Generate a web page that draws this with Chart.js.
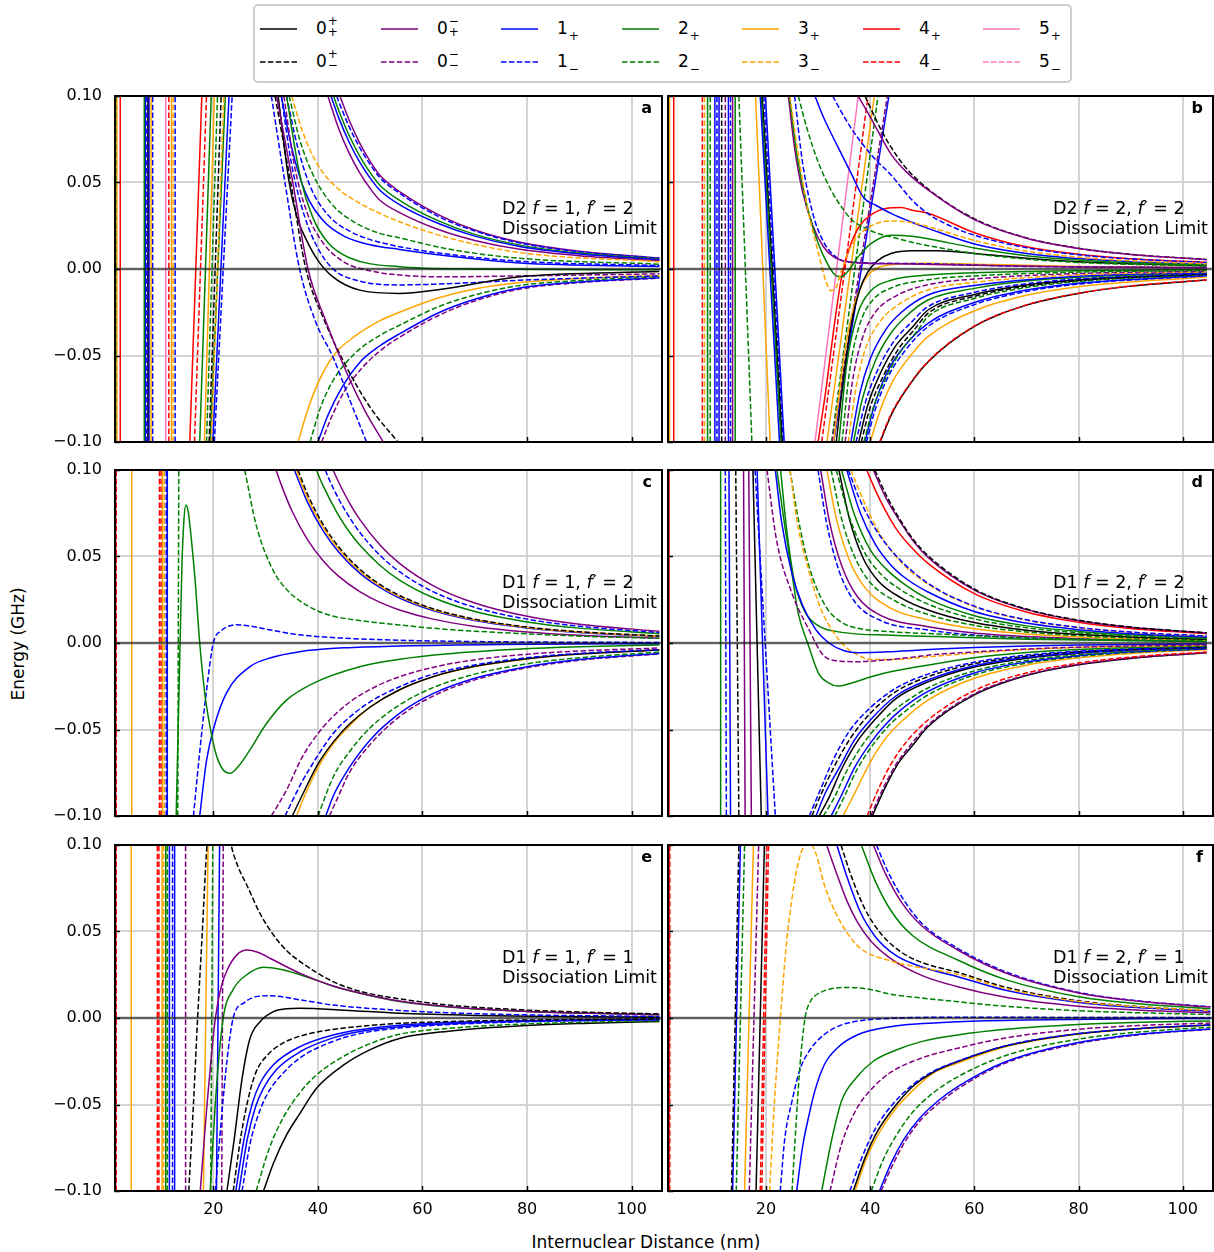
<!DOCTYPE html>
<html>
<head>
<meta charset="utf-8">
<script src="https://cdn.jsdelivr.net/npm/chart.js@4.4.1/dist/chart.umd.min.js"></script>
<style>
  body { margin: 0; background: #fff; }
  #fig { position: relative; width: 1214px; height: 1252px; overflow: hidden; font-family: 'DejaVu Sans', sans-serif; color: #000; }
  .st { display: inline-block; vertical-align: middle; font-size: 12px; line-height: 11px; margin-left: 1px; position: relative; top: -2px; }
  .st span { display: block; }
  .sb { font-size: 12px; position: relative; top: 6px; margin-left: 1px; }
  .note { position: absolute; font-size: 17.5px; line-height: 20px; white-space: nowrap; text-align: left; }
  .tag { position: absolute; font-size: 16px; font-weight: bold; }
  svg { display: block; }
</style>
</head>
<body>
<div id="fig"></div>
<script>
// ---- axes ----
const X_RANGE = [1.2, 105.8];
const Y_RANGE = [-0.1, 0.1];
const xTicks = [20, 40, 60, 80, 100];
const yTicks = [-0.1, -0.05, 0, 0.05, 0.1];

// ---- legend states (Omega, sigma, parity) ----
const legendStates = ['0++', '0-+', '1+', '2+', '3+', '4+', '5+', '0+-', '0--', '1-', '2-', '3-', '4-', '5-'];

// ---- panel text ----
const panelTags = ['a', 'b', 'c', 'd', 'e', 'f'];
const panelLine = ['D2', 'D2', 'D1', 'D1', 'D1', 'D1'];
const panelF = [1, 2, 1, 2, 1, 2];
const panelFp = [2, 2, 2, 2, 1, 1];

// ---- panel a: D2 f=1, f'=2 ----
// near-vertical short-range lines: [state, x at E=-0.1, x at E=+0.1]
const linesA = [
  ['2-', 1.35, 1.35], ['3+', 1.55, 1.55], ['4+', 2.2, 2.2],
  ['2+', 6.8, 6.8], ['1+', 7.0, 7.0], ['1-', 7.3, 7.3], ['0++', 7.5, 7.5], ['1+', 7.7, 7.7], ['3+', 8.1, 8.1], ['1-', 8.4, 8.4],
  ['5+', 10.9, 10.9], ['4-', 11.5, 11.5], ['3+', 12.0, 12.0], ['3-', 12.3, 12.3], ['1-', 12.7, 12.7],
  ['4+', 15.5, 17.8], ['4-', 16.4, 18.7], ['2+', 17.4, 19.6], ['3+', 18.3, 20.2], ['2-', 18.7, 20.8],
  ['0+-', 19.2, 21.5], ['3-', 19.6, 22.0], ['2+', 19.4, 22.3], ['1+', 19.9, 23.0], ['1-', 20.2, 23.6]
];
const curvesA = [
  ['1-', [31.1,0.1, 33.7,0.05, 36.5,0, 39.5,-0.03, 42.9,-0.051, 46,-0.075, 49.3,-0.1]],
  ['0-+', [32.1,0.1, 35.2,0.05, 38.1,0, 41.5,-0.03, 45.5,-0.06, 49,-0.082, 52.5,-0.1]],
  ['0+-', [31.8,0.1, 34.8,0.05, 37.7,0, 41,-0.028, 45,-0.054, 50,-0.08, 55.3,-0.1]],
  ['0++', [32.4,0.1, 34.5,0.05, 36,0.03, 37.8,0.0168, 40,0.005, 42.8,-0.0044, 48,-0.0122, 55.6,-0.0141, 63,-0.012, 78.6,-0.0045, 105.3,-0.0015]],
  ['1-', [33,0.1, 35,0.06, 37.5,0.03, 40,0.012, 42.9,0, 48,-0.007, 55.6,-0.0092, 65,-0.0085, 78.6,-0.0065, 105.3,-0.004]],
  ['0--', [33.5,0.1, 35.5,0.06, 38,0.032, 41,0.015, 45,0.004, 48.5,0, 55.6,-0.0035, 65,-0.0045, 78.6,-0.004, 105.3,-0.0028]],
  ['2+', [34,0.1, 36.5,0.055, 39,0.03, 42,0.015, 46,0.0065, 55.6,0.0013, 70,0, 105.3,-0.0005]],
  ['1+', [33,0.1, 35,0.07, 37.5,0.045, 41,0.028, 45,0.019, 50,0.014, 55.6,0.0113, 65,0.0075, 78.6,0.0035, 105.3,0.0015]],
  ['1-', [34,0.1, 36,0.072, 38.5,0.048, 42,0.031, 46,0.022, 50,0.017, 55.6,0.0129, 65,0.0085, 78.6,0.0045, 105.3,0.002]],
  ['2-', [34.5,0.1, 36.5,0.075, 39,0.055, 42.5,0.038, 47,0.027, 51.8,0.0206, 55.6,0.018, 65,0.0115, 78.6,0.0062, 105.3,0.0028]],
  ['3-', [35,0.1, 37,0.08, 40,0.06, 44,0.046, 48,0.038, 51.8,0.0322, 55.6,0.0273, 65,0.018, 78.6,0.0095, 105.3,0.0042]],
  ['0-+', [41.9,0.1, 44,0.0809, 46,0.0668, 48,0.0555, 50,0.0465, 51.8,0.0399, 56,0.032, 63.3,0.0225, 70,0.0165, 78.6,0.0114, 90,0.0077, 105.3,0.0048]],
  ['1+', [42.5,0.1, 44,0.0872, 46,0.0731, 48,0.0618, 50,0.0525, 51.8,0.0457, 56,0.0365, 63.3,0.026, 70,0.019, 78.6,0.013, 90,0.0087, 105.3,0.0054]],
  ['2+', [43,0.1, 44,0.0915, 46,0.077, 48,0.0653, 50,0.0557, 51.8,0.0486, 56,0.039, 63.3,0.0275, 70,0.020, 78.6,0.0138, 90,0.0092, 105.3,0.0057]],
  ['1-', [43.6,0.1, 44,0.0967, 46,0.0821, 48,0.0702, 50,0.0604, 51.8,0.053, 56,0.043, 63.3,0.030, 70,0.022, 78.6,0.015, 90,0.01, 105.3,0.0062]],
  ['0-+', [44.2,0.1, 46,0.0858, 48,0.0728, 50,0.0622, 51.8,0.0543, 56,0.044, 63.3,0.031, 70,0.0225, 78.6,0.0155, 90,0.0103, 105.3,0.0064]],
  ['3+', [36.2,-0.1, 38,-0.082, 40,-0.066, 43,-0.05, 47,-0.039, 51.8,-0.03, 55.6,-0.025, 63.3,-0.0165, 70,-0.0115, 78.6,-0.0078, 90,-0.0055, 105.3,-0.0037]],
  ['2-', [38.5,-0.1, 40.5,-0.08, 43,-0.064, 47,-0.049, 51.8,-0.0385, 55.6,-0.0325, 63.3,-0.0215, 70,-0.015, 78.6,-0.0095, 90,-0.0066, 105.3,-0.0044]],
  ['1+', [40,-0.1, 42,-0.084, 44.5,-0.069, 48,-0.054, 51.8,-0.0445, 55.6,-0.0375, 63.3,-0.025, 70,-0.0175, 78.6,-0.011, 90,-0.0075, 105.3,-0.005]],
  ['0--', [40.7,-0.1, 42.7,-0.085, 45,-0.071, 48.5,-0.057, 51.8,-0.0475, 55.6,-0.0395, 63.3,-0.0265, 70,-0.0185, 78.6,-0.0116, 90,-0.0079, 105.3,-0.0053]]
];

// ---- panel b: D2 f=2, f'=2 ----
const linesB = [
  ['3+', 1.5, 1.5], ['4+', 2.3, 2.3],
  ['4-', 7.8, 7.8], ['3-', 8.2, 8.2], ['2+', 8.8, 8.8], ['2-', 9.3, 9.3], ['1+', 10.2, 10.2], ['1-', 10.6, 10.6], ['1+', 11.0, 11.0],
  ['0+-', 11.5, 11.5], ['0--', 12.2, 12.2], ['1+', 12.8, 12.8], ['1-', 13.2, 13.2], ['0-+', 13.6, 13.6], ['2+', 14.1, 14.1],
  ['2-', 17.3, 14.8], ['3+', 20.8, 18.0], ['1+', 22.6, 18.9], ['2+', 22.9, 19.1], ['0++', 23.1, 19.3], ['1-', 23.3, 19.6], ['1+', 23.5, 19.9],
  ['5+', 29.4, 37.7], ['4-', 30.7, 39.6], ['3+', 31.7, 40.8], ['0--', 32.7, 43.3], ['1+', 33.0, 43.6], ['2-', 32.6, 41.5]
];
const curvesB = [
  ['3-', [24.6,0.1, 26,0.07, 28,0.035, 30,0.01, 31.5,-0.007, 32.5,-0.0125, 33.4,-0.011, 34.5,-0.001, 36,0.011, 38,0.02, 41,0.026, 44,0.0278, 47.5,0.027, 51.1,0.0245, 60,0.0165, 70,0.0103, 80,0.0068, 90,0.0048, 104.6,0.003]],
  ['2+', [24.5,0.1, 26,0.065, 28,0.035, 30,0.015, 32,0.002, 33.5,-0.004, 34.5,-0.0045, 35.8,-0.001, 37.7,0.007, 40.2,0.0148, 44.1,0.0195, 48,0.019, 51.1,0.0175, 60,0.0122, 70,0.0077, 80,0.0052, 90,0.0036, 104.6,0.0023]],
  ['0-+', [24.3,0.1, 25.5,0.07, 27,0.045, 29,0.025, 31,0.013, 33,0.007, 35.2,0.0045, 38,0.0035, 45,0.003, 60,0.0022, 80,0.0012, 104.6,0.0007]],
  ['1-', [25.5,0.1, 27,0.062, 29,0.032, 31,0.016, 33,0.008, 35,0.0045, 40,0.0035, 51.1,0.003, 70,0.0015, 104.6,0.0008]],
  ['1+', [29.4,0.1, 31,0.088, 33.9,0.07, 36.4,0.055, 38.8,0.041, 41,0.037, 44.1,0.032, 48,0.027, 51.1,0.0235, 60,0.0145, 70,0.009, 80,0.006, 90,0.0042, 104.6,0.0027]],
  ['2-', [26.2,0.1, 28,0.08, 30,0.062, 32.6,0.045, 35.2,0.033, 36.6,0.028, 38.5,0.0245, 41,0.021, 44.1,0.0185, 48,0.0155, 51.1,0.0135, 60,0.009, 70,0.0057, 80,0.0038, 90,0.0027, 104.6,0.0017]],
  ['1-', [32.8,0.1, 36,0.083, 40.2,0.066, 44.1,0.054, 48,0.04, 51.1,0.032, 56,0.024, 60,0.0195, 70,0.0123, 80,0.0082, 90,0.0058, 104.6,0.0037]],
  ['0-+', [37.7,0.1, 40,0.088, 44.1,0.066, 47,0.056, 51.1,0.0457, 60,0.0285, 70,0.0178, 80,0.0119, 90,0.0084, 104.6,0.0054]],
  ['0+-', [39.0,0.1, 42,0.081, 44.1,0.07, 47,0.058, 51.1,0.0463, 60,0.029, 70,0.018, 80,0.012, 90,0.0085, 104.6,0.0055]],
  ['4+', [30.0,-0.1, 31.5,-0.07, 33,-0.035, 34.5,-0.005, 36,0.012, 38,0.025, 40,0.031, 43,0.035, 46,0.0355, 48,0.034, 51.1,0.0322, 60,0.021, 70,0.0128, 80,0.0085, 90,0.0059, 104.6,0.0038]],
  ['0++', [33.5,-0.1, 35,-0.06, 36.5,-0.03, 38,-0.012, 39.5,-0.002, 41.5,0.005, 44,0.009, 48,0.0105, 53,0.0105, 60,0.009, 70,0.0062, 80,0.0042, 90,0.003, 104.6,0.0019]],
  ['3+', [33,-0.1, 35,-0.05, 37,-0.02, 39,-0.006, 41,0, 44,0.0025, 51.1,0.0033, 60,0.0028, 80,0.0015, 104.6,0.0008]],
  ['2+', [34,-0.1, 35.5,-0.055, 37.7,-0.025, 40,-0.013, 44,-0.0065, 51.1,-0.0035, 60,-0.0022, 80,-0.001, 104.6,-0.0005]],
  ['2-', [34.6,-0.1, 36,-0.06, 38,-0.032, 40.5,-0.018, 44,-0.011, 51.1,-0.0062, 60,-0.004, 80,-0.0018, 104.6,-0.0009]],
  ['0--', [35.2,-0.1, 36.6,-0.065, 38.5,-0.04, 41,-0.025, 45,-0.0155, 51.1,-0.0091, 60,-0.0058, 80,-0.0026, 104.6,-0.0013]],
  ['3-', [35.8,-0.1, 37.2,-0.07, 39,-0.047, 42,-0.03, 46,-0.0195, 51.1,-0.0121, 60,-0.0077, 80,-0.0034, 104.6,-0.0017]],
  ['1+', [36.3,-0.1, 38,-0.072, 40,-0.052, 43,-0.035, 46,-0.025, 51.1,-0.015, 60,-0.0095, 80,-0.0042, 104.6,-0.0021]],
  ['2+', [36.8,-0.1, 38.5,-0.075, 41,-0.053, 44,-0.037, 47,-0.027, 51.1,-0.0179, 60,-0.0112, 70,-0.007, 80,-0.0048, 104.6,-0.0022]],
  ['1-', [37.3,-0.1, 39,-0.078, 41.5,-0.058, 44.5,-0.042, 47.5,-0.032, 51.1,-0.0218, 60,-0.0135, 70,-0.0085, 80,-0.0057, 104.6,-0.0026]],
  ['0++', [37.8,-0.1, 39.5,-0.079, 42,-0.06, 45,-0.044, 48,-0.034, 51.1,-0.0237, 60,-0.0147, 70,-0.0092, 80,-0.0062, 104.6,-0.0028]],
  ['0+-', [38.3,-0.1, 40,-0.08, 42.5,-0.062, 45.5,-0.046, 48.5,-0.035, 51.1,-0.0256, 60,-0.0158, 70,-0.0099, 80,-0.0067, 104.6,-0.003]],
  ['2-', [38.8,-0.1, 40.5,-0.081, 43,-0.063, 46,-0.047, 49,-0.036, 51.1,-0.0276, 60,-0.017, 70,-0.0107, 80,-0.0072, 104.6,-0.0032]],
  ['1+', [39.0,-0.1, 40.7,-0.08, 43.2,-0.06, 46.2,-0.046, 51.1,-0.0314, 60,-0.0194, 70,-0.0122, 80,-0.0082, 104.6,-0.0037]],
  ['1-', [39.3,-0.1, 41,-0.081, 43.5,-0.062, 46.5,-0.048, 51.1,-0.0333, 60,-0.0206, 70,-0.013, 80,-0.0087, 104.6,-0.0039]],
  ['3+', [40,-0.1, 42,-0.081, 44.5,-0.064, 47.5,-0.051, 51.1,-0.0391, 60,-0.0242, 70,-0.0152, 80,-0.0102, 104.6,-0.0046]],
  ['4-', [41.8,-0.1, 44,-0.084, 47,-0.069, 51.1,-0.0535, 60,-0.033, 70,-0.0208, 80,-0.014, 90,-0.0098, 104.6,-0.0063]],
  ['0++', [41.9,-0.1, 44.1,-0.084, 47.1,-0.069, 51.1,-0.0538, 60,-0.0332, 70,-0.0209, 80,-0.0141, 90,-0.0099, 104.6,-0.0064]]
];

// ---- panel c: D1 f=1, f'=2 ----
const linesC = [
  ['4+', 1.3, 1.3], ['4-', 1.45, 1.45], ['3+', 4.4, 4.4], ['4-', 9.7, 9.7], ['4-', 10.0, 10.0], ['3+', 10.3, 10.3],
  ['3-', 10.6, 10.6], ['1-', 11.0, 11.0], ['1+', 11.2, 11.2], ['2-', 13.2, 13.4]
];
const curvesC = [
  ['2+', [12.9,-0.1, 13.5,-0.02, 14.0,0.045, 14.4,0.072, 14.76,0.0798, 15.2,0.076, 15.8,0.06, 16.5,0.037, 17.4,0, 18.4,-0.03, 19.35,-0.048, 20.5,-0.064, 21.8,-0.073, 23.2,-0.0753, 24.6,-0.072, 27,-0.0618, 30.2,-0.0464, 34,-0.033, 39.1,-0.0233, 48,-0.0137, 55.6,-0.0094, 65,-0.0062, 78,-0.0036, 90,-0.0022, 105.3,-0.0012]],
  ['1-', [16.2,-0.1, 17.5,-0.06, 18.6,-0.03, 20,0, 21.5,0.007, 23,0.0098, 24.4,0.0105, 27,0.0098, 31,0.0075, 36.5,0.0047, 45,0.0028, 55.6,0.0016, 75,0.0007, 105.3,0.0003]],
  ['1+', [17.4,-0.1, 18.7,-0.068, 20,-0.05, 22.5,-0.029, 27,-0.0137, 31,-0.0085, 36.5,-0.005, 45,-0.0028, 55.6,-0.0017, 75,-0.0008, 105.3,-0.0004]],
  ['2-', [26,0.1, 28.3,0.067, 31.4,0.0422, 34,0.031, 36.5,0.0245, 40,0.0185, 43,0.0155, 46,0.0138, 51.8,0.0116, 55.6,0.0104, 65,0.0078, 78.6,0.0055, 92,0.0038, 105.3,0.0027]],
  ['0-+', [42.9,0.1, 44,0.0928, 46,0.0812, 48,0.0715, 52,0.0562, 55.6,0.046, 62,0.0332, 70,0.0231, 80,0.0154, 90,0.0108, 105.3,0.0068]],
  ['1-', [41.4,0.1, 42,0.0956, 44,0.0831, 46,0.0728, 48,0.064, 52,0.0503, 55.6,0.0412, 62,0.0297, 70,0.0206, 80,0.0138, 90,0.0097, 105.3,0.0061]],
  ['2+', [39.7,0.1, 41,0.0908, 44,0.0735, 46,0.0643, 48,0.0566, 52,0.0445, 55.6,0.0364, 62,0.0263, 70,0.0182, 80,0.0122, 90,0.0086, 105.3,0.0054]],
  ['0+-', [36.2,0.1, 38,0.0861, 41,0.0686, 44,0.0555, 48,0.0427, 52,0.0336, 55.6,0.0275, 62,0.0198, 70,0.0138, 80,0.0092, 90,0.0065, 105.3,0.004]],
  ['3+', [35.85,0.1, 38,0.0839, 41,0.0668, 44,0.0541, 48,0.0416, 52,0.0327, 55.6,0.0268, 62,0.0193, 70,0.0134, 80,0.009, 90,0.0063, 105.3,0.0039]],
  ['1+', [35.5,0.1, 38,0.0814, 41,0.0648, 44,0.0525, 48,0.0404, 52,0.0318, 55.6,0.026, 62,0.0188, 70,0.013, 80,0.0087, 90,0.0061, 105.3,0.0038]],
  ['0-+', [32.0,0.1, 33,0.0914, 35,0.0766, 38,0.0598, 41,0.0476, 44,0.0385, 48,0.0297, 52,0.0233, 55.6,0.0191, 62,0.0138, 70,0.0096, 80,0.0064, 90,0.0045, 105.3,0.0028]],
  ['0--', [31.1,-0.1, 34,-0.085, 37,-0.066, 41,-0.0486, 46,-0.0344, 51,-0.0253, 55.6,-0.0195, 63,-0.0134, 71,-0.0093, 80,-0.0065, 90,-0.0046, 105.3,-0.0029]],
  ['1-', [33.7,-0.1, 37,-0.08, 40,-0.065, 43,-0.052, 46,-0.043, 50,-0.034, 55.6,-0.0253, 62,-0.018, 70,-0.0127, 80,-0.0085, 90,-0.006, 105.3,-0.0038]],
  ['0++', [35.1,-0.1, 37,-0.088, 40,-0.07, 43,-0.057, 46,-0.047, 50,-0.037, 55.6,-0.027, 62,-0.0195, 70,-0.0135, 80,-0.0091, 90,-0.0064, 105.3,-0.004]],
  ['3+', [35.9,-0.1, 37.5,-0.088, 40,-0.072, 43,-0.058, 46,-0.048, 50,-0.037, 55.6,-0.0272, 62,-0.0196, 70,-0.0136, 80,-0.0092, 90,-0.0064, 105.3,-0.0041]],
  ['2-', [40,-0.1, 43,-0.077, 46,-0.063, 50,-0.049, 55.6,-0.0358, 62,-0.0258, 70,-0.018, 80,-0.012, 90,-0.0085, 105.3,-0.0053]],
  ['1+', [41.5,-0.1, 43,-0.088, 46,-0.072, 50,-0.056, 55.6,-0.0407, 62,-0.0293, 70,-0.0204, 80,-0.0137, 90,-0.0096, 105.3,-0.006]],
  ['0--', [42.2,-0.1, 44,-0.088, 46,-0.075, 50,-0.0586, 55.6,-0.0426, 62,-0.0307, 70,-0.0213, 80,-0.0143, 90,-0.01, 105.3,-0.0063]]
];

// ---- panel d: D1 f=2, f'=2 ----
const linesD = [
  ['4+', 1.4, 1.4], ['2+', 11.3, 11.3], ['1-', 12.4, 12.2], ['1+', 13.2, 12.9], ['0+-', 14.8, 14.2], ['0-+', 16.0, 15.7],
  ['0-+', 17.2, 16.7], ['0++', 19.1, 17.5], ['1+', 20.4, 18.3], ['1-', 21.8, 17.9]
];
const curvesD = [
  ['0--', [20.2,0.1, 22,0.06, 25,0.0287, 28.2,0.008, 31.3,-0.0079, 34.5,-0.0105, 37.7,-0.0108, 44.1,-0.0095, 53,-0.0065, 60,-0.0052, 70,-0.0035, 80,-0.0024, 90,-0.0017, 104.6,-0.0011]],
  ['1+', [21.8,0.1, 23,0.07, 25,0.04, 27,0.022, 29.5,0.008, 32.1,0, 35,-0.0045, 37.7,-0.0056, 44.1,-0.005, 53,-0.0035, 60,-0.0026, 70,-0.0017, 80,-0.0012, 104.6,-0.0006]],
  ['3-', [24.6,0.1, 26,0.07, 28.2,0.042, 30.5,0.02, 33,0.006, 35.2,-0.002, 37.7,-0.007, 40,-0.0095, 44,-0.0095, 53,-0.0075, 60,-0.0058, 70,-0.0038, 80,-0.0026, 104.6,-0.0013]],
  ['2+', [22.1,0.1, 23.5,0.07, 25,0.04, 26.2,0.0171, 28,0, 30.1,-0.0175, 32,-0.023, 33.9,-0.0249, 36,-0.0235, 40.2,-0.0195, 44.1,-0.0165, 53,-0.0118, 60,-0.0085, 70,-0.0055, 80,-0.0037, 90,-0.0026, 104.6,-0.0017]],
  ['2-', [24.6,0.1, 26,0.075, 28.2,0.045, 31.3,0.022, 34.5,0.012, 37.7,0.0085, 44.1,0.0065, 53,0.0052, 70,0.003, 104.6,0.0012]],
  ['2+', [22.8,0.1, 24,0.065, 25.5,0.035, 27.5,0.018, 30,0.01, 35,0.006, 44,0.0045, 53,0.0037, 70,0.0022, 104.6,0.0009]],
  ['0+-', [40.9,0.1, 43,0.086, 46,0.07, 48.5,0.059, 51.1,0.0505, 60,0.0312, 70,0.0196, 80,0.0132, 90,0.0092, 104.6,0.0059]],
  ['0-+', [40.6,0.1, 43,0.084, 46,0.069, 48.5,0.058, 51.1,0.0495, 60,0.0306, 70,0.0193, 80,0.0129, 90,0.0091, 104.6,0.0058]],
  ['4+', [39.3,0.1, 42,0.082, 45,0.066, 48,0.055, 51.1,0.046, 60,0.0285, 70,0.0179, 80,0.012, 90,0.0084, 104.6,0.0054]],
  ['1-', [35.8,0.1, 38,0.083, 41,0.066, 44.5,0.052, 51.1,0.0345, 60,0.0213, 70,0.0134, 80,0.009, 90,0.0063, 104.6,0.004]],
  ['3-', [36.3,0.1, 39.5,0.077, 42.5,0.06, 46,0.0465, 51.1,0.034, 60,0.021, 70,0.0132, 80,0.0089, 90,0.0062, 104.6,0.004]],
  ['1+', [35.5,0.1, 38,0.076, 41,0.057, 44,0.045, 47,0.037, 51.1,0.0295, 60,0.0182, 70,0.0115, 80,0.0077, 90,0.0054, 104.6,0.0035]],
  ['2+', [34.5,0.1, 37,0.074, 40,0.054, 43,0.043, 47,0.033, 51.1,0.0255, 60,0.0158, 70,0.0099, 80,0.0067, 90,0.0047, 104.6,0.003]],
  ['2-', [33.5,0.1, 36,0.073, 39,0.052, 42,0.04, 46,0.0305, 51.1,0.0225, 60,0.0139, 70,0.0088, 80,0.0059, 90,0.0041, 104.6,0.0026]],
  ['0++', [34,0.1, 36,0.072, 38.5,0.05, 41.5,0.036, 46,0.026, 51.1,0.0191, 60,0.0118, 70,0.0074, 80,0.005, 90,0.0035, 104.6,0.0022]],
  ['2-', [32.5,0.1, 34.5,0.072, 37,0.05, 40,0.035, 45,0.024, 51.1,0.0165, 60,0.0102, 70,0.0064, 80,0.0043, 90,0.003, 104.6,0.0019]],
  ['3+', [31.7,0.1, 33.5,0.072, 36,0.048, 39,0.032, 44,0.02, 51.1,0.0133, 60,0.0082, 70,0.0052, 80,0.0035, 90,0.0024, 104.6,0.0015]],
  ['0-+', [30.5,0.1, 32.2,0.07, 34.5,0.045, 37.5,0.027, 42,0.016, 51.1,0.0094, 60,0.0058, 70,0.0037, 80,0.0025, 104.6,0.0011]],
  ['1-', [30,0.1, 31.6,0.07, 34,0.042, 37,0.024, 42,0.013, 51.1,0.0075, 60,0.0046, 70,0.0029, 80,0.002, 104.6,0.0009]],
  ['1-', [28.3,-0.1, 30,-0.088, 33,-0.067, 36,-0.051, 40,-0.0375, 45,-0.026, 51.1,-0.018, 60,-0.0111, 70,-0.007, 80,-0.0047, 90,-0.0033, 104.6,-0.0021]],
  ['0+-', [28.8,-0.1, 30.5,-0.088, 33,-0.072, 36,-0.056, 40,-0.0407, 45,-0.028, 51.1,-0.0195, 60,-0.012, 70,-0.0076, 80,-0.0051, 90,-0.0036, 104.6,-0.0023]],
  ['1+', [29.6,-0.1, 31.5,-0.086, 34,-0.0725, 37,-0.056, 40,-0.0446, 45,-0.0305, 51.1,-0.0214, 60,-0.0132, 70,-0.0083, 80,-0.0056, 90,-0.0039, 104.6,-0.0025]],
  ['0++', [30.2,-0.1, 32,-0.09, 34.5,-0.073, 37.5,-0.057, 41,-0.044, 45,-0.032, 51.1,-0.0225, 60,-0.0139, 70,-0.0088, 80,-0.0059, 90,-0.0041, 104.6,-0.0026]],
  ['2-', [31.0,-0.1, 33,-0.09, 35.5,-0.074, 38.5,-0.059, 42,-0.046, 46,-0.0357, 51.1,-0.026, 60,-0.0161, 70,-0.0101, 80,-0.0068, 90,-0.0048, 104.6,-0.003]],
  ['1+', [32.5,-0.1, 34.5,-0.088, 37,-0.072, 40,-0.058, 43,-0.047, 46,-0.0384, 51.1,-0.028, 60,-0.0173, 70,-0.0109, 80,-0.0073, 90,-0.0051, 104.6,-0.0033]],
  ['2-', [33.2,-0.1, 35,-0.089, 37.5,-0.073, 40.5,-0.059, 43.5,-0.048, 46.5,-0.04, 51.1,-0.030, 60,-0.0185, 70,-0.0117, 80,-0.0078, 90,-0.0055, 104.6,-0.0035]],
  ['3+', [34.8,-0.1, 37,-0.087, 40,-0.069, 43,-0.055, 46.5,-0.044, 51.1,-0.033, 60,-0.0204, 70,-0.0128, 80,-0.0086, 90,-0.006, 104.6,-0.0039]],
  ['4-', [39.4,-0.1, 41.5,-0.085, 44,-0.07, 47,-0.057, 51.1,-0.0445, 60,-0.0275, 70,-0.0173, 80,-0.0116, 90,-0.0081, 104.6,-0.0052]],
  ['0--', [40.1,-0.1, 42.5,-0.084, 45,-0.07, 48,-0.058, 51.1,-0.0475, 60,-0.0294, 70,-0.0185, 80,-0.0124, 90,-0.0087, 104.6,-0.0056]],
  ['0++', [40.4,-0.1, 42.8,-0.084, 45.3,-0.07, 48.2,-0.059, 51.1,-0.0484, 60,-0.03, 70,-0.0188, 80,-0.0126, 90,-0.0089, 104.6,-0.0057]]
];

// ---- panel e: D1 f=1, f'=1 ----
const linesE = [
  ['4+', 1.3, 1.3], ['4-', 1.45, 1.45], ['3+', 4.3, 4.3], ['4-', 9.3, 9.3], ['4-', 9.6, 9.6], ['3+', 10.2, 10.2], ['3-', 10.5, 10.5],
  ['2+', 10.9, 10.9], ['2-', 11.2, 11.2], ['1+', 11.6, 11.6], ['1-', 12.2, 12.2], ['1+', 12.6, 12.6], ['0--', 14.7, 14.7],
  ['3+', 18.1, 19.0], ['2-', 19.5, 19.9], ['1+', 20.6, 21.2], ['0--', 21.6, 21.9]
];
const curvesE = [
  ['0+-', [15.3,-0.1, 16.2,-0.05, 17.0,0, 17.9,0.05, 18.8,0.1, 21,0.14, 23.4,0.1, 24.8,0.087, 26.4,0.0769, 29,0.06, 31.5,0.048, 34,0.039, 36.6,0.0326, 42.9,0.021, 48,0.0155, 55.6,0.0111, 65,0.0075, 80,0.0046, 92,0.0033, 105.3,0.0024]],
  ['0-+', [17.5,-0.1, 18.8,-0.05, 20.4,0, 21.5,0.018, 22.8,0.0287, 24.5,0.0365, 26.4,0.0393, 28.5,0.038, 31.5,0.0335, 36.6,0.0258, 42.9,0.0185, 48,0.0145, 55.6,0.0098, 65,0.0065, 80,0.0038, 92,0.0027, 105.3,0.0019]],
  ['2+', [19.4,-0.1, 20.6,-0.04, 21.9,0, 23.8,0.0165, 26.4,0.025, 29.6,0.0293, 33,0.028, 36.6,0.025, 42.9,0.0185, 48,0.0143, 55.6,0.0096, 65,0.0064, 80,0.0038, 92,0.0027, 105.3,0.0019]],
  ['1-', [20.4,-0.1, 21.5,-0.06, 22.6,-0.025, 23.8,0, 26,0.009, 28.5,0.0125, 30.9,0.0129, 36.6,0.0105, 42.9,0.0075, 55.6,0.0044, 65,0.003, 80,0.0018, 105.3,0.0009]],
  ['0++', [22.6,-0.1, 24,-0.07, 25.5,-0.035, 27,-0.012, 28.9,-0.0023, 31.5,0.0037, 34,0.0053, 36.6,0.0056, 45,0.0045, 55.6,0.0027, 70,0.0015, 85,0.0009, 105.3,0.0005]],
  ['0+-', [23.8,-0.1, 25.3,-0.068, 26.8,-0.045, 28.2,-0.031, 30.5,-0.021, 33.3,-0.0145, 36.6,-0.0105, 39.7,-0.0082, 45,-0.0058, 55.6,-0.0031, 70,-0.0017, 85,-0.001, 105.3,-0.0006]],
  ['1+', [24.3,-0.1, 26,-0.068, 27.5,-0.049, 28.9,-0.038, 31.5,-0.027, 36.6,-0.0165, 42.9,-0.0098, 48,-0.0068, 55.6,-0.0042, 70,-0.0022, 85,-0.0013, 105.3,-0.0007]],
  ['1+', [24.9,-0.1, 26.5,-0.07, 28,-0.052, 29.6,-0.0405, 32,-0.03, 36.6,-0.0195, 42.9,-0.0115, 48,-0.0078, 55.6,-0.005, 70,-0.0027, 85,-0.0016, 105.3,-0.0009]],
  ['1-', [25.5,-0.1, 27,-0.073, 28.6,-0.056, 30.5,-0.043, 33,-0.033, 36.6,-0.023, 42.9,-0.0135, 48,-0.009, 55.6,-0.0058, 70,-0.0031, 85,-0.0018, 105.3,-0.001]],
  ['2-', [28.2,-0.1, 30.5,-0.077, 33.3,-0.058, 36.6,-0.043, 39.7,-0.033, 45,-0.022, 50,-0.0148, 55.6,-0.0094, 65,-0.006, 80,-0.0034, 92,-0.0024, 105.3,-0.0016]],
  ['0++', [29.6,-0.1, 31.5,-0.084, 34,-0.0676, 36.6,-0.055, 39.7,-0.0407, 45,-0.027, 50,-0.0183, 55.6,-0.0118, 65,-0.0076, 80,-0.0043, 92,-0.003, 105.3,-0.002]]
];

// ---- panel f: D1 f=2, f'=1 ----
const linesF = [
  ['4+', 1.4, 1.4], ['4-', 1.55, 1.55], ['0+-', 13.4, 14.8], ['1+', 13.6, 15.1], ['2-', 14.3, 15.9], ['3+', 15.9, 17.6],
  ['0--', 16.8, 18.6], ['0++', 18.1, 19.7], ['4-', 18.9, 20.2], ['4-', 19.2, 20.5]
];
const curvesF = [
  ['3-', [20.7,-0.1, 21.6,-0.05, 23,0.009, 24,0.045, 24.9,0.067, 26,0.087, 27.4,0.0995, 28.6,0.1005, 29.6,0.095, 31.2,0.077, 33.5,0.06, 37.5,0.042, 43.9,0.033, 50,0.029, 56.8,0.0252, 66,0.017, 80,0.0095, 92,0.0064, 105.3,0.0043]],
  ['0-+', [40.6,0.1, 43,0.083, 46,0.067, 50,0.053, 56.8,0.0393, 66,0.026, 80,0.0145, 92,0.0095, 105.3,0.0063]],
  ['1-', [41.2,0.1, 43.5,0.084, 46.5,0.068, 50,0.0545, 56.8,0.0403, 66,0.0267, 80,0.0148, 92,0.0097, 105.3,0.0065]],
  ['2+', [38.3,0.1, 41,0.079, 44,0.062, 48,0.048, 56.8,0.0335, 66,0.0222, 80,0.0123, 92,0.0081, 105.3,0.0054]],
  ['0+-', [34.4,0.1, 36.5,0.081, 39,0.063, 42,0.049, 46,0.038, 50,0.032, 56.8,0.0264, 66,0.0178, 80,0.0099, 92,0.0065, 105.3,0.0043]],
  ['1+', [33.6,0.1, 35.5,0.082, 38,0.062, 41,0.047, 45,0.036, 50,0.0295, 56.8,0.0239, 66,0.016, 80,0.009, 92,0.0059, 105.3,0.0039]],
  ['0-+', [31.65,0.1, 33.5,0.084, 35.5,0.068, 37.5,0.0557, 40,0.045, 43.9,0.0345, 50,0.0245, 56.8,0.0181, 66,0.012, 80,0.0068, 92,0.0045, 105.3,0.003]],
  ['2-', [25.0,-0.1, 25.8,-0.06, 26.6,-0.025, 27.5,0, 28.5,0.0095, 29.5,0.013, 32,0.0165, 35.8,0.0177, 40,0.0165, 43.9,0.0138, 50,0.0115, 56.8,0.0094, 66,0.0068, 80,0.0042, 92,0.003, 105.3,0.002]],
  ['1-', [22.75,-0.1, 23.6,-0.07, 25,-0.048, 26.5,-0.03, 28.2,-0.0195, 31,-0.01, 34.5,-0.004, 39,-0.0012, 43.9,-0.0002, 56.8,0.0005, 80,0.0003, 105.3,0.0002]],
  ['1+', [25.9,-0.1, 27,-0.075, 28.2,-0.057, 29.4,-0.042, 31.2,-0.027, 34,-0.0165, 37.5,-0.0098, 43.9,-0.005, 50,-0.0032, 56.8,-0.0021, 70,-0.0011, 90,-0.0005, 105.3,-0.0003]],
  ['2+', [30.7,-0.1, 32.5,-0.072, 34.5,-0.048, 37.5,-0.034, 40.6,-0.025, 45,-0.0185, 50,-0.0135, 56.8,-0.0098, 66,-0.0065, 80,-0.0037, 92,-0.0025, 105.3,-0.0017]],
  ['0--', [32.3,-0.1, 34.5,-0.073, 37.5,-0.052, 40.6,-0.04, 43.9,-0.0315, 50,-0.023, 56.8,-0.0175, 66,-0.0115, 80,-0.0065, 92,-0.0043, 105.3,-0.0029]],
  ['1-', [36.1,-0.1, 38.5,-0.08, 41,-0.064, 44,-0.051, 48,-0.039, 52,-0.031, 56.8,-0.025, 66,-0.016, 80,-0.009, 92,-0.006, 105.3,-0.004]],
  ['0++', [36.75,-0.1, 39,-0.081, 41.5,-0.065, 44.5,-0.052, 48,-0.04, 52,-0.0315, 56.8,-0.0252, 66,-0.0162, 80,-0.0091, 92,-0.006, 105.3,-0.004]],
  ['3+', [37.1,-0.1, 39.3,-0.081, 42,-0.065, 45,-0.052, 48.5,-0.041, 52,-0.032, 56.8,-0.026, 66,-0.0166, 80,-0.0093, 92,-0.0061, 105.3,-0.0041]],
  ['2-', [40.2,-0.1, 42.5,-0.082, 45,-0.068, 48,-0.055, 52,-0.0435, 56.8,-0.034, 66,-0.0217, 80,-0.0122, 92,-0.008, 105.3,-0.0053]],
  ['1+', [41.8,-0.1, 44,-0.084, 46.5,-0.07, 49.5,-0.058, 53,-0.048, 56.8,-0.0397, 66,-0.0253, 80,-0.0142, 92,-0.0093, 105.3,-0.0063]],
  ['0--', [42.1,-0.1, 44.3,-0.085, 47,-0.07, 50,-0.058, 53.3,-0.049, 56.8,-0.041, 66,-0.026, 80,-0.0147, 92,-0.0096, 105.3,-0.0065]]
];

// ---- styling ----
const stateColors = { '0+': '#000000', '0-': '#800080', '1': '#0000ff', '2': '#008000', '3': '#ffa500', '4': '#ff0000', '5': '#ff77bb' };
const DASH = [5.5, 2.4];
const LINE_W = 1.5;
function styleOf(s) {
  const key = s[0] === '0' ? s.slice(0, 2) : s[0];
  const parity = s[s.length - 1];
  return { color: stateColors[key], dash: parity === '-' ? DASH : [] };
}

const fig = document.getElementById('fig');
function addEl(tag, css, html) {
  const e = document.createElement(tag);
  e.style.cssText = css;
  if (html != null) e.innerHTML = html;
  fig.appendChild(e);
  return e;
}

// ---- legend ----
const legendColX = [260, 381, 501, 622, 742, 863, 983];
const legendRowY = [29, 62];
function stateLabel(s) {
  const sign = c => (c === '+' ? '+' : '\u2212');
  if (s[0] === '0') {
    return '0<span class="st"><span>' + sign(s[1]) + '</span><span>' + sign(s[2]) + '</span></span>';
  }
  return s[0] + '<span class="sb">' + sign(s[1]) + '</span>';
}
addEl('div', 'position:absolute;left:253px;top:4px;width:815px;height:75px;border:2px solid #cccccc;border-radius:5px;background:#fff;');
legendStates.forEach((s, i) => {
  const row = i < 7 ? 0 : 1, col = i % 7;
  const x = legendColX[col], y = legendRowY[row];
  const st = styleOf(s);
  addEl('div', `position:absolute;left:${x}px;top:${y - 5}px;width:38px;height:10px;`,
    `<svg width="38" height="10"><line x1="0" y1="5" x2="37" y2="5" stroke="${st.color}" stroke-width="${LINE_W}" ${st.dash.length ? 'stroke-dasharray="' + st.dash.join(',') + '"' : ''}/></svg>`);
  addEl('div', `position:absolute;left:${x + 56}px;top:${y - 12}px;font-size:17px;line-height:22px;white-space:nowrap;`, stateLabel(s));
});

// ---- axis titles ----
addEl('div', 'position:absolute;left:646px;top:1242px;transform:translate(-50%,-50%);font-size:17px;white-space:nowrap;', 'Internuclear Distance (nm)');
addEl('div', 'position:absolute;left:18px;top:644px;transform:translate(-50%,-50%) rotate(-90deg);font-size:17px;white-space:nowrap;', 'Energy (GHz)');

// ---- frame + inward ticks ----
const framePlugin = {
  id: 'frame',
  afterDatasetsDraw(chart) {
    const { ctx, chartArea: a, scales } = chart;
    ctx.save();
    ctx.strokeStyle = '#000';
    ctx.lineWidth = 1.5;
    xTicks.forEach(v => {
      const px = Math.round(scales.x.getPixelForValue(v)) + 0.5;
      ctx.beginPath(); ctx.moveTo(px, a.bottom); ctx.lineTo(px, a.bottom - 5); ctx.stroke();
    });
    yTicks.forEach(v => {
      const py = Math.round(scales.y.getPixelForValue(v)) + 0.5;
      ctx.beginPath(); ctx.moveTo(a.left, py); ctx.lineTo(a.left + 5, py); ctx.stroke();
    });
    ctx.lineWidth = 2;
    ctx.strokeRect(a.left, a.top, a.width, a.height);
    ctx.restore();
  }
};

function toPoints(flat) {
  const pts = [];
  for (let i = 0; i < flat.length; i += 2) pts.push({ x: flat[i], y: flat[i + 1] });
  return pts;
}

function noScalePadding(ax) {
  ax.paddingTop = 0; ax.paddingBottom = 0; ax.paddingLeft = 0; ax.paddingRight = 0;
}

function makePanel(idx, rect, lines, curves, showX, showY) {
  const [L, T, R, B] = rect;
  const padL = showY ? L : 8, padT = 12, padR = 1;
  const padB = showX ? 50 : 12;
  const w = (R - L) + padL + padR, h = (B - T) + padT + padB;
  const cv = document.createElement('canvas');
  cv.width = w; cv.height = h;
  cv.style.cssText = `position:absolute;left:${L - padL}px;top:${T - padT}px;width:${w}px;height:${h}px;`;
  fig.appendChild(cv);

  const datasets = [];
  datasets.push({
    data: [{ x: X_RANGE[0], y: 0 }, { x: X_RANGE[1], y: 0 }],
    borderColor: 'rgba(0,0,0,0.55)', borderWidth: 2.4, order: -1, tension: 0
  });
  curves.forEach(([s, flat]) => {
    const st = styleOf(s);
    datasets.push({ data: toPoints(flat), borderColor: st.color, borderDash: st.dash, borderWidth: LINE_W, cubicInterpolationMode: 'monotone' });
  });
  lines.forEach(([s, xb, xt]) => {
    const st = styleOf(s);
    const pts = [{ x: xb, y: Y_RANGE[0] }, { x: xt, y: Y_RANGE[1] }].sort((p, q) => p.x - q.x);
    datasets.push({ data: pts, borderColor: st.color, borderDash: st.dash, borderWidth: LINE_W, tension: 0 });
  });

  const tickFont = { family: 'DejaVu Sans', size: 16 };
  new Chart(cv, {
    type: 'line',
    data: { datasets },
    options: {
      responsive: false, animation: false, events: [],
      layout: { padding: { left: 0, right: padR, top: padT, bottom: 0 } },
      elements: { point: { radius: 0 }, line: { fill: false } },
      datasets: { line: { clip: 0, pointRadius: 0, spanGaps: true } },
      plugins: { legend: { display: false }, tooltip: { enabled: false } },
      scales: {
        x: {
          type: 'linear', min: X_RANGE[0], max: X_RANGE[1],
          afterBuildTicks: ax => { ax.ticks = xTicks.map(v => ({ value: v })); },
          afterFit: ax => { ax.height = padB; noScalePadding(ax); },
          grid: { color: '#d4d4d4', lineWidth: 2, drawTicks: false },
          border: { display: false },
          ticks: { display: showX, padding: 9, color: '#000', font: tickFont, maxRotation: 0, autoSkip: false, callback: v => String(v) }
        },
        y: {
          type: 'linear', min: Y_RANGE[0], max: Y_RANGE[1],
          afterBuildTicks: ax => { ax.ticks = yTicks.map(v => ({ value: v })); },
          afterFit: ax => { ax.width = padL; noScalePadding(ax); },
          grid: { color: '#d4d4d4', lineWidth: 2, drawTicks: false },
          border: { display: false },
          ticks: { display: showY, padding: 13, color: '#000', font: tickFont, autoSkip: false,
            callback: v => (v < 0 ? '\u2212' : '') + Math.abs(v).toFixed(2) }
        }
      }
    },
    plugins: [framePlugin]
  });

  // panel tag and dissociation-limit note
  addEl('div', `right:${1214 - R + 10}px;top:${T + 2}px;`, panelTags[idx]).className = 'tag';
  const note = addEl('div', `right:${1214 - R + 5}px;top:${T + 102}px;`,
    `${panelLine[idx]} <i>f</i> = ${panelF[idx]}, <i>f</i>\u2032 = ${panelFp[idx]}<br>Dissociation Limit`);
  note.className = 'note';
}

const rects = [
  [115, 96, 662, 442], [668, 96, 1213, 442],
  [115, 470, 662, 816], [668, 470, 1213, 816],
  [115, 845, 662, 1191], [668, 845, 1213, 1191]
];
const panelLines = [linesA, linesB, linesC, linesD, linesE, linesF];
const panelCurves = [curvesA, curvesB, curvesC, curvesD, curvesE, curvesF];
rects.forEach((r, i) => makePanel(i, r, panelLines[i], panelCurves[i], i >= 4, i % 2 === 0));
</script>
</body>
</html>
